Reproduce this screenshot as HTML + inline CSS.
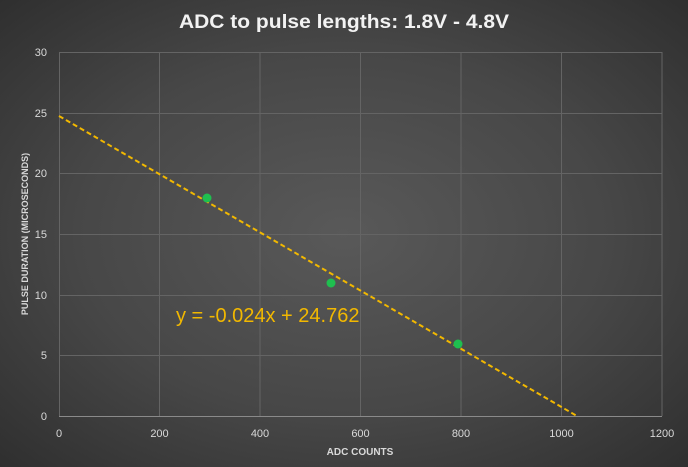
<!DOCTYPE html>
<html><head><style>
html,body{margin:0;padding:0;}
body{width:688px;height:467px;overflow:hidden;background:radial-gradient(ellipse at 50% 50%,#595959 0%,#474747 55%,#2f2f2f 100%);font-family:"Liberation Sans",sans-serif;}
</style></head><body>
<svg width="688" height="467" xmlns="http://www.w3.org/2000/svg" style="position:absolute;left:0;top:0">
<text x="344" y="28" text-anchor="middle" fill="#f2f2f2" font-size="19" font-weight="bold" font-family="Liberation Sans, sans-serif" textLength="330" lengthAdjust="spacingAndGlyphs">ADC to pulse lengths: 1.8V - 4.8V</text>
<g stroke="#646464" stroke-width="1">
<line x1="59" y1="52.5" x2="662" y2="52.5"/>
<line x1="59" y1="113.5" x2="662" y2="113.5"/>
<line x1="59" y1="173.5" x2="662" y2="173.5"/>
<line x1="59" y1="234.5" x2="662" y2="234.5"/>
<line x1="59" y1="295.5" x2="662" y2="295.5"/>
<line x1="59" y1="355.5" x2="662" y2="355.5"/>
<line x1="159.5" y1="52" x2="159.5" y2="416"/>
<line x1="260" y1="52" x2="260" y2="416"/>
<line x1="360.5" y1="52" x2="360.5" y2="416"/>
<line x1="461" y1="52" x2="461" y2="416"/>
<line x1="561.5" y1="52" x2="561.5" y2="416"/>
<line x1="662" y1="52" x2="662" y2="416"/>
</g>
<line x1="59" y1="416.5" x2="662" y2="416.5" stroke="#8a8a8a"/>
<line x1="59.5" y1="52" x2="59.5" y2="416" stroke="#646464"/>
<g fill="#d9d9d9" font-size="11" text-anchor="end">
<text x="47" y="56">30</text><text x="47" y="117">25</text><text x="47" y="177">20</text>
<text x="47" y="238">15</text><text x="47" y="299">10</text><text x="47" y="359">5</text><text x="47" y="420">0</text>
</g>
<g fill="#d9d9d9" font-size="11" text-anchor="middle">
<text x="59" y="437">0</text><text x="159.5" y="437">200</text><text x="260" y="437">400</text><text x="360.5" y="437">600</text>
<text x="461" y="437">800</text><text x="561.5" y="437">1000</text><text x="662" y="437">1200</text>
</g>
<text x="360" y="455" fill="#d9d9d9" font-size="10" font-weight="bold" text-anchor="middle">ADC COUNTS</text>
<text transform="translate(28,234) rotate(-90)" fill="#d9d9d9" font-size="9" font-weight="bold" text-anchor="middle">PULSE DURATION (MICROSECONDS)</text>
<line x1="59" y1="116" x2="577" y2="416" stroke="#f2b800" stroke-width="2" stroke-dasharray="5,3"/>
<g fill="#1fbf4f"><circle cx="207" cy="198" r="4.5"/><circle cx="331" cy="283" r="4.5"/><circle cx="458" cy="344" r="4.5"/></g>
<text x="176" y="322" fill="#f2b800" font-size="20">y = -0.024x + 24.762</text>
</svg>
</body></html>
